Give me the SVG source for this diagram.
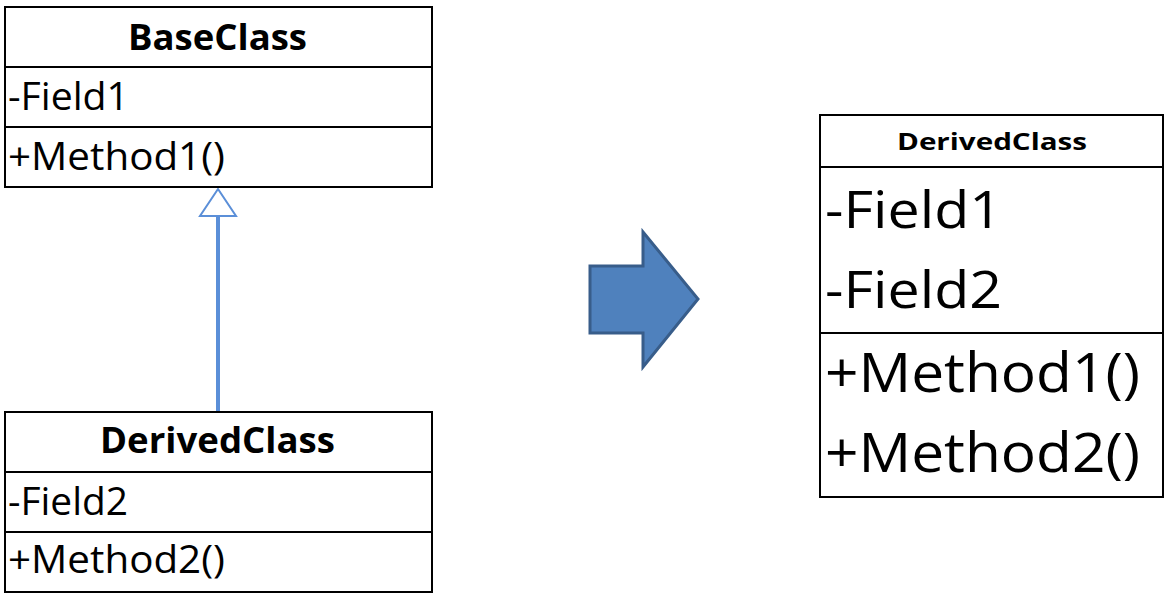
<svg xmlns="http://www.w3.org/2000/svg" width="1170" height="598" viewBox="0 0 1170 598">
<style>
.box{fill:#fff;stroke:#000;stroke-width:2}
.div{stroke:#000;stroke-width:2}
.t{font-family:"Open Sans","Liberation Sans",sans-serif;fill:#000}
.b{font-weight:bold}
</style>
<rect width="1170" height="598" fill="#fff"/>
<g id="connectors">
<line x1="218" y1="216" x2="218" y2="412" stroke="#5B8FD8" stroke-width="4"/>
<polygon points="218,189 200,216 236,216" fill="#fff" stroke="#5B8FD8" stroke-width="2"/>
</g>
<g id="BaseClass">
<rect class="box" x="5" y="7" width="427" height="180"/>
<line class="div" x1="5" y1="67" x2="432" y2="67"/>
<line class="div" x1="5" y1="127" x2="432" y2="127"/>
<text class="t b" x="128" y="50" font-size="35" textLength="179" lengthAdjust="spacingAndGlyphs">BaseClass</text>
<text class="t" x="8" y="110" font-size="38" textLength="121" lengthAdjust="spacingAndGlyphs">-Field1</text>
<text class="t" x="8" y="170" font-size="38" textLength="217" lengthAdjust="spacingAndGlyphs">+Method1()</text>
</g>
<g id="DerivedClass">
<rect class="box" x="5" y="412" width="427" height="180"/>
<line class="div" x1="5" y1="472" x2="432" y2="472"/>
<line class="div" x1="5" y1="532" x2="432" y2="532"/>
<text class="t b" x="100" y="453" font-size="35" textLength="235" lengthAdjust="spacingAndGlyphs">DerivedClass</text>
<text class="t" x="8" y="515" font-size="38" textLength="120" lengthAdjust="spacingAndGlyphs">-Field2</text>
<text class="t" x="8" y="573" font-size="38" textLength="217" lengthAdjust="spacingAndGlyphs">+Method2()</text>
</g>
<g id="BigArrow">
<polygon points="590,266 643,266 643,232 698,299 643,367 643,333 590,333" fill="#4F81BD" stroke="#385D8A" stroke-width="3" stroke-linejoin="miter"/>
</g>
<g id="MergedDerivedClass">
<rect class="box" x="820" y="115" width="343" height="382"/>
<line class="div" x1="820" y1="167" x2="1163" y2="167"/>
<line class="div" x1="820" y1="333" x2="1163" y2="333"/>
<text class="t b" x="897" y="150" font-size="24" textLength="190" lengthAdjust="spacingAndGlyphs">DerivedClass</text>
<text class="t" x="825" y="228" font-size="52" textLength="177" lengthAdjust="spacingAndGlyphs">-Field1</text>
<text class="t" x="825" y="308" font-size="52" textLength="177" lengthAdjust="spacingAndGlyphs">-Field2</text>
<text class="t" x="825" y="392" font-size="54" textLength="315" lengthAdjust="spacingAndGlyphs">+Method1()</text>
<text class="t" x="825" y="472" font-size="54" textLength="315" lengthAdjust="spacingAndGlyphs">+Method2()</text>
</g>
</svg>
